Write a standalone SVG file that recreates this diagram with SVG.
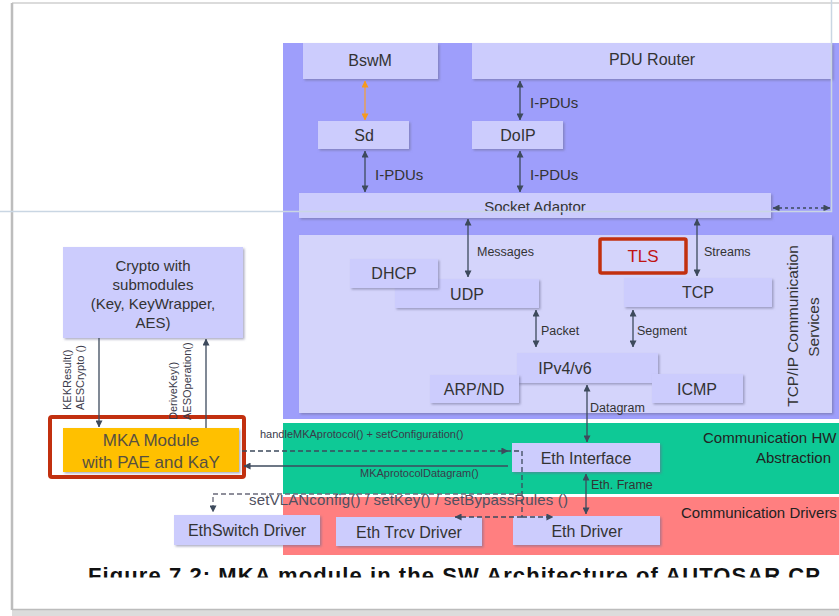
<svg xmlns="http://www.w3.org/2000/svg" width="839" height="616" viewBox="0 0 839 616">
  <defs>
    <style>
      .box { fill: #ccccfd; filter: url(#sh); }
      .lbl { font-family: "Liberation Sans", Arial, sans-serif; font-size: 16px; fill: #333; text-anchor: middle; }
      .sm { font-family: "Liberation Sans", Arial, sans-serif; font-size: 12.5px; fill: #333; }
      .xs { font-family: "Liberation Sans", Arial, sans-serif; font-size: 11px; fill: #3a3a4a; }
      .band { font-family: "Liberation Sans", Arial, sans-serif; font-size: 15px; fill: #222; }
      .con { stroke: #3d4a5c; stroke-width: 1.3; fill: none; }
      .dash { stroke: #3d4a5c; stroke-width: 1.3; fill: none; stroke-dasharray: 5 3; }
      .dashg { stroke: #6a6a7a; stroke-width: 1.3; fill: none; stroke-dasharray: 5 3; }
    </style>
    <filter id="sh" x="-5%" y="-10%" width="115%" height="130%">
      <feDropShadow dx="1.5" dy="1.5" stdDeviation="0.8" flood-color="#6a6a90" flood-opacity="0.55"/>
    </filter>
    <marker id="ah" viewBox="0 0 8 8" refX="7.5" refY="4" markerWidth="7" markerHeight="7" markerUnits="userSpaceOnUse" orient="auto-start-reverse">
      <path d="M0,0 L8,4 L0,8 z" fill="#3d4a5c"/>
    </marker>
    <marker id="aho" viewBox="0 0 8 8" refX="7.5" refY="4" markerWidth="7" markerHeight="7" markerUnits="userSpaceOnUse" orient="auto-start-reverse">
      <path d="M0,0 L8,4 L0,8 z" fill="#f59a1c"/>
    </marker>
    <clipPath id="capclip">
      <rect x="0" y="550" width="839" height="27.5"/>
    </clipPath>
  </defs>

  <rect x="0" y="0" width="839" height="616" fill="#ffffff"/>

  <!-- page frame -->
  <line x1="12" y1="3" x2="839" y2="3" stroke="#cfcfcf" stroke-width="1.5"/>
  <line x1="12" y1="3" x2="12" y2="610" stroke="#bdbdbd" stroke-width="2.5"/>
  <rect x="12" y="609" width="827" height="7" fill="#dcdcdc"/>
  <line x1="12" y1="609.5" x2="839" y2="609.5" stroke="#bcbcbc" stroke-width="1.5"/>

  <!-- layer bands -->
  <rect x="283" y="43" width="556" height="376" fill="#9e9efb"/>
  <rect x="283" y="423" width="556" height="71" fill="#0ec996"/>
  <rect x="283" y="497" width="556" height="58" fill="#ff7f80"/>
  <text class="band" x="703" y="443">Communication HW</text>
  <text class="band" x="756" y="463">Abstraction</text>
  <text class="band" x="681" y="518">Communication Drivers</text>

  <!-- TCP/IP communication services container -->
  <g id="tcpip">
    <rect x="299" y="235" width="533" height="178" fill="#d4d4fb" filter="url(#sh)"/>
    <text class="lbl" style="font-size:15.5px" transform="translate(798,326) rotate(-90)">TCP/IP Communication</text>
    <text class="lbl" style="font-size:15.5px" transform="translate(819,327) rotate(-90)">Services</text>
  </g>

  <!-- nodes -->
  <g id="bswm">
    <rect class="box" x="303" y="43" width="135" height="36"/>
    <text class="lbl" x="370" y="66">BswM</text>
  </g>
  <g id="pdur">
    <rect class="box" x="472" y="43" width="360" height="36"/>
    <text class="lbl" x="652" y="65">PDU Router</text>
  </g>
  <g id="sd">
    <rect class="box" x="318" y="121" width="91" height="28"/>
    <text class="lbl" x="364" y="141">Sd</text>
  </g>
  <g id="doip">
    <rect class="box" x="472" y="121" width="91" height="28"/>
    <text class="lbl" x="518" y="141">DoIP</text>
  </g>
  <g id="soad">
    <rect class="box" x="299" y="193" width="472" height="25"/>
    <text class="lbl" style="font-size:15px" x="535" y="212">Socket Adaptor</text>
  </g>
  <g id="udp">
    <rect class="box" x="395" y="279" width="144" height="29"/>
    <text class="lbl" x="467" y="300">UDP</text>
  </g>
  <g id="dhcp">
    <rect class="box" x="350" y="259" width="88" height="29"/>
    <text class="lbl" x="394" y="279">DHCP</text>
  </g>
  <g id="tcp">
    <rect class="box" x="624" y="278" width="148" height="29"/>
    <text class="lbl" x="698" y="298">TCP</text>
  </g>
  <g id="tls">
    <rect x="600" y="239" width="86" height="34" fill="#d4d4fb" stroke="#c2300f" stroke-width="3.5" rx="1.5"/>
    <text class="lbl" style="fill:#c01414;font-size:17px" x="643" y="262">TLS</text>
  </g>
  <g id="ipv">
    <rect class="box" x="517" y="353" width="141" height="30"/>
    <text class="lbl" x="565" y="374">IPv4/v6</text>
  </g>
  <g id="arp">
    <rect class="box" x="430" y="375" width="89" height="28"/>
    <text class="lbl" x="474" y="395">ARP/ND</text>
  </g>
  <g id="icmp">
    <rect class="box" x="652" y="374" width="91" height="29"/>
    <text class="lbl" x="697" y="395">ICMP</text>
  </g>
  <g id="ethif">
    <rect class="box" x="512" y="443" width="148" height="29"/>
    <text class="lbl" x="586" y="464">Eth Interface</text>
  </g>
  <g id="ethdrv">
    <rect class="box" x="513" y="516" width="147" height="29"/>
    <text class="lbl" x="587" y="537">Eth Driver</text>
  </g>
  <g id="ethtrcv">
    <rect class="box" x="336" y="517" width="146" height="29"/>
    <text class="lbl" x="409" y="538">Eth Trcv Driver</text>
  </g>
  <g id="ethswt">
    <rect class="box" x="174" y="515" width="146" height="30"/>
    <text class="lbl" x="247" y="536">EthSwitch Driver</text>
  </g>
  <g id="crypto">
    <rect class="box" x="63" y="247" width="180" height="91"/>
    <text class="lbl" style="font-size:15px" x="153" y="271">Crypto with</text>
    <text class="lbl" style="font-size:15px" x="153" y="290">submodules</text>
    <text class="lbl" style="font-size:15px" x="153" y="309">(Key, KeyWrapper,</text>
    <text class="lbl" style="font-size:15px" x="153" y="328">AES)</text>
  </g>
  <g id="mka">
    <rect x="63" y="428" width="176" height="44" fill="#ffc000" filter="url(#sh)"/>
    <text class="lbl" style="font-size:17px;fill:#575040" x="151" y="446">MKA Module</text>
    <text class="lbl" style="font-size:17px;fill:#575040" x="151" y="468">with PAE and KaY</text>
    <rect x="50" y="417" width="194" height="60" fill="none" stroke="#c2300f" stroke-width="4" rx="2"/>
  </g>

  <!-- connectors -->
  <g id="connectors">
    <path class="con" d="M365,81 V120" style="stroke:#f0a040" marker-start="url(#aho)" marker-end="url(#aho)"/>
    <path class="con" d="M520,81 V120" marker-start="url(#ah)" marker-end="url(#ah)"/>
    <text class="lbl" style="text-anchor:start;font-size:15px" x="530" y="108">I-PDUs</text>
    <path class="con" d="M365,151 V192" marker-start="url(#ah)" marker-end="url(#ah)"/>
    <text class="lbl" style="text-anchor:start;font-size:15px" x="375" y="180">I-PDUs</text>
    <path class="con" d="M520,151 V192" marker-start="url(#ah)" marker-end="url(#ah)"/>
    <text class="lbl" style="text-anchor:start;font-size:15px" x="530" y="180">I-PDUs</text>
    <path class="dash" d="M773,208 H830" style="stroke-dasharray:3 3" marker-start="url(#ah)" marker-end="url(#ah)"/>

    <path class="con" d="M468,219 V277" marker-start="url(#ah)" marker-end="url(#ah)"/>
    <text class="sm" x="477" y="256">Messages</text>
    <path class="con" d="M697,219 V276" marker-start="url(#ah)" marker-end="url(#ah)"/>
    <text class="sm" x="704" y="256">Streams</text>
    <path class="con" d="M536,310 V347" marker-start="url(#ah)" marker-end="url(#ah)"/>
    <text class="sm" x="541" y="335">Packet</text>
    <path class="con" d="M633,310 V347" marker-start="url(#ah)" marker-end="url(#ah)"/>
    <text class="sm" x="637" y="335">Segment</text>
    <path class="con" d="M587,385 V442" marker-start="url(#ah)" marker-end="url(#ah)"/>
    <text class="sm" x="590" y="412">Datagram</text>
    <path class="con" d="M586,474 V514" marker-start="url(#ah)" marker-end="url(#ah)"/>
    <text class="sm" x="591" y="489">Eth. Frame</text>

    <!-- crypto interfaces -->
    <path class="con" d="M99,338 V427" marker-end="url(#ah)"/>
    <path class="con" d="M206,428 V339" marker-end="url(#ah)"/>
    <text class="xs" transform="translate(71,410) rotate(-90)">KEKResult()</text>
    <text class="xs" transform="translate(84,410) rotate(-90)">AESCrypto ()</text>
    <text class="xs" transform="translate(177,420) rotate(-90)">DeriveKey()</text>
    <text class="xs" transform="translate(191,420) rotate(-90)">AESOperation()</text>

    <!-- MKA to Ethernet stack -->
    <text class="xs" x="260" y="438">handleMKAprotocol() + setConfiguration()</text>
    <path class="dash" d="M242,451 H522 V517"/>
    <path class="con" d="M495,451 H508" style="stroke:none" marker-end="url(#ah)"/>
    <path class="con" d="M508,466 H244" marker-end="url(#ah)"/>
    <text class="xs" x="360" y="477">MKAprotocolDatagram()</text>
    <path class="dashg" d="M522,494 H213 V512" marker-end="url(#ah)"/>
    <path class="dash" d="M522,517 H553" marker-end="url(#ah)"/>
    <path class="dash" d="M522,517 H455" marker-end="url(#ah)"/>
    <text class="lbl" style="text-anchor:start;font-size:15px;fill:#505060" x="249" y="505" textLength="319">setVLANconfig() / setKey() / setBypassRules ()</text>
  </g>

  <!-- caption -->
  <text clip-path="url(#capclip)" x="88" y="583" font-family="Liberation Sans, Arial, sans-serif" font-size="22" font-weight="bold" fill="#111" textLength="732">Figure 7.2: MKA module in the SW Architecture of AUTOSAR CP</text>

  <!-- thin guide line over the figure -->
  <path d="M0,211.5 H831.5 V0" fill="none" stroke="#c9d6e3" stroke-width="1.5"/>
</svg>
